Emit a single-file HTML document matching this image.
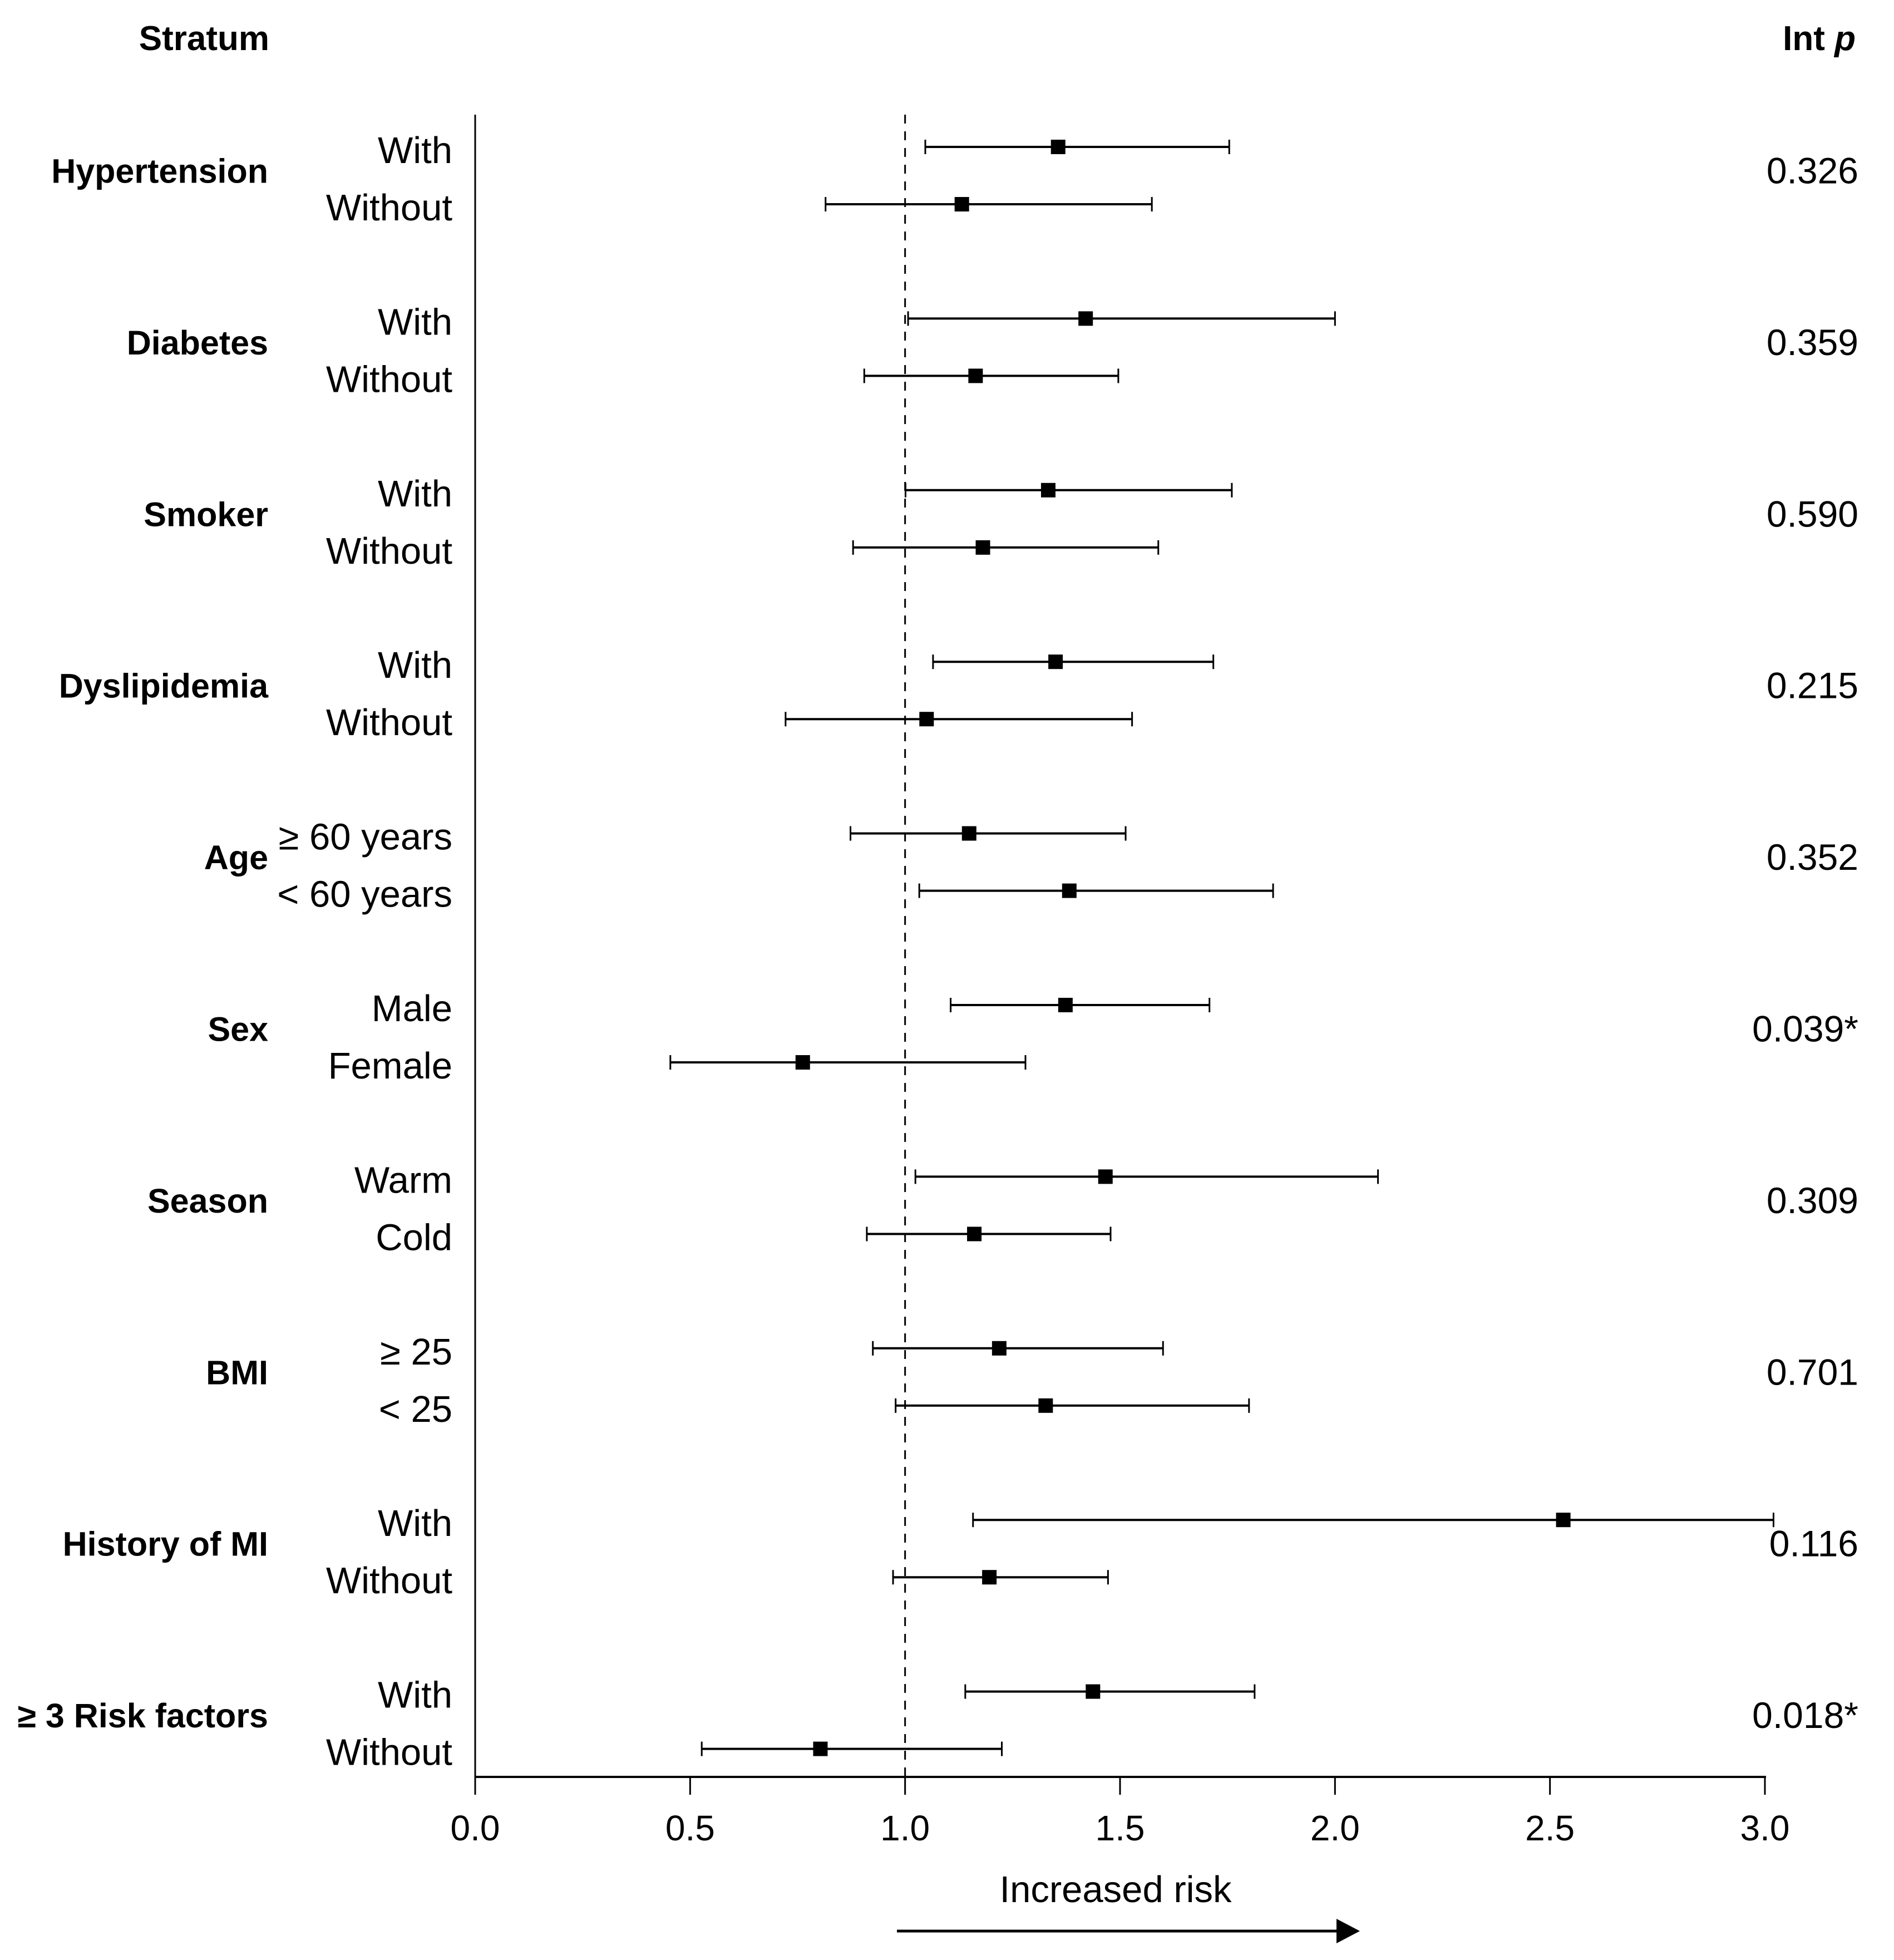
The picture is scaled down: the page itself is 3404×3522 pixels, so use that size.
<!DOCTYPE html>
<html><head><meta charset="utf-8"><style>
html,body{margin:0;padding:0;background:#fff;}
svg{display:block;font-family:"Liberation Sans",Arial,sans-serif;}
</style></head><body>
<svg id="chart" width="3404" height="3522" viewBox="0 0 3404 3522" xmlns="http://www.w3.org/2000/svg">
<rect width="3404" height="3522" fill="#fff"/>
<text x="484" y="90" text-anchor="end" font-weight="bold" font-size="62">Stratum</text>
<text x="3335" y="90" text-anchor="end" font-weight="bold" font-size="62">Int <tspan font-style="italic">p</tspan></text>
<g id="plot"></g>
</svg>
<script>
const groups = ["Hypertension","Diabetes","Smoker","Dyslipidemia","Age","Sex","Season","BMI","History of MI","\u2265 3 Risk factors"];
const subLabels = [["With","Without"],["With","Without"],["With","Without"],["With","Without"],["\u2265 60 years","< 60 years"],["Male","Female"],["Warm","Cold"],["\u2265 25","< 25"],["With","Without"],["With","Without"]];
const pValues = ["0.326","0.359","0.590","0.215","0.352","0.039*","0.309","0.701","0.116","0.018*"];
const estimates = [1.356,1.132, 1.42,1.164, 1.333,1.181, 1.35,1.05, 1.149,1.382, 1.373,0.762, 1.466,1.161, 1.219,1.327, 2.531,1.196, 1.437,0.803];
const lower = [1.047,0.815, 1.007,0.905, 1.001,0.879, 1.065,0.722, 0.873,1.033, 1.106,0.454, 1.024,0.911, 0.925,0.978, 1.158,0.972, 1.14,0.527];
const upper = [1.754,1.574, 2.00,1.496, 1.76,1.589, 1.717,1.528, 1.513,1.856, 1.708,1.28, 2.10,1.478, 1.60,1.80, 3.02,1.472, 1.813,1.225];
const xTicks = [0,0.5,1.0,1.5,2.0,2.5,3.0];
const xTickLabels = ["0.0","0.5","1.0","1.5","2.0","2.5","3.0"];

const NS="http://www.w3.org/2000/svg";
const g=document.getElementById('plot');
const X0=854, X1=3172, YT=206, YB=3193;
const xs=v=>X0+(v-0)/(3-0)*(X1-X0);
const rowY=i=>264+Math.floor(i/2)*308.4+(i%2)*103;
function mk(tag,attrs){const e=document.createElementNS(NS,tag);for(const k in attrs)e.setAttribute(k,attrs[k]);g.appendChild(e);return e;}

let e=mk('line',{x1:X0,y1:YT,x2:X0,y2:YB,stroke:'#000','stroke-width':3});


e=mk('line',{x1:xs(1),y1:YT,x2:xs(1),y2:YB,stroke:'#000','stroke-width':3,'stroke-dasharray':'16,14'});


e=mk('line',{x1:X0-1,y1:YB,x2:X1+2,y2:YB,stroke:'#000','stroke-width':4});


xTicks.forEach((t,i)=>{
  let l=mk('line',{x1:xs(t),y1:YB,x2:xs(t),y2:YB+32,stroke:'#000','stroke-width':3});
  
  
  let tx=mk('text',{x:xs(t),y:YB+114,'text-anchor':'middle','font-size':64});
  tx.textContent=xTickLabels[i];
  
  
});
groups.forEach((name,gi)=>{
  const ym=(rowY(gi*2)+rowY(gi*2+1))/2;
  let t=mk('text',{x:482,y:ym+13,'text-anchor':'end','font-weight':'bold','font-size':61});
  t.textContent=name;
  
  
  let p=mk('text',{x:3340,y:ym+14,'text-anchor':'end','font-size':66});
  p.textContent=pValues[gi];
  
  
  for(let s=0;s<2;s++){
    const i=gi*2+s, y=rowY(i);
    let sl=mk('text',{x:813,y:y+29,'text-anchor':'end','font-size':67});
    sl.textContent=subLabels[gi][s];
    
    
    let ci=mk('line',{x1:xs(lower[i]),y1:y,x2:xs(upper[i]),y2:y,stroke:'#000','stroke-width':4});
    
    
    [lower[i],upper[i]].forEach(v=>{
      let c=mk('line',{x1:xs(v),y1:y-13,x2:xs(v),y2:y+13,stroke:'#000','stroke-width':3});
      
      
    });
    let m=mk('rect',{x:xs(estimates[i])-13,y:y-13,width:26,height:26,fill:'#000'});
    
    
  }
});
let lab=mk('text',{x:2005,y:3418,'text-anchor':'middle','font-size':67});
lab.textContent='Increased risk';


let ar=mk('line',{x1:1612,y1:3470,x2:2402,y2:3470,stroke:'#000','stroke-width':5});


let ah=mk('polygon',{points:'2402,3448 2444,3470 2402,3492',fill:'#000'});


</script>
</body></html>
